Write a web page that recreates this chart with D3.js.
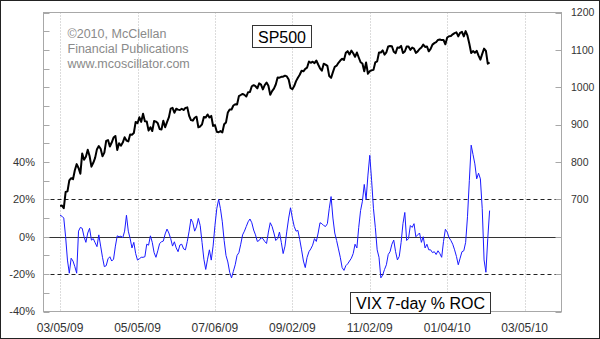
<!DOCTYPE html>
<html><head><meta charset="utf-8">
<script src="https://cdn.jsdelivr.net/npm/d3@7"></script>
<style>html,body{margin:0;padding:0;background:#fff;}svg{display:block;}</style>
</head><body>
<script>
// ---- data ----
const dateTickDays = [0, 42, 84, 126, 168, 210, 252];
const dateTickLabels = ["03/05/09", "05/05/09", "07/06/09", "09/02/09", "11/02/09", "01/04/10", "03/05/10"];
const leftTickValues = [-40, -30, -20, -10, 0, 10, 20, 30, 40, 50, 60, 70, 80, 90, 100, 110, 120];
const leftLabelValues = [-40, -20, 0, 20, 40];
const rightTickValues = [400, 500, 600, 700, 800, 900, 1000, 1100, 1200];
const rightLabelValues = [700, 800, 900, 1000, 1100, 1200];
const refLines = [20, -20];

// S&P 500 daily closes from 03/05/09 (trading-day index 0)
const sp500 = [
682.55,683.38,676.53,719.60,721.36,750.74,756.55,753.89,778.12,794.35,784.04,768.54,822.92,806.12,813.88,832.86,815.94,787.53,797.87,
811.08,834.38,842.50,835.48,815.55,825.16,856.56,858.73,841.50,852.06,865.30,869.60,832.39,850.08,843.55,851.92,866.23,857.51,855.16,873.64,872.81,
877.52,907.24,903.80,919.53,907.39,929.23,909.24,908.35,883.92,893.07,882.88,909.71,908.13,903.47,888.33,887.00,910.33,893.06,906.83,919.14,
942.87,944.74,931.76,942.46,940.09,939.14,942.43,939.15,944.89,946.21,923.72,911.97,910.71,918.37,921.23,893.04,895.10,900.94,920.26,918.90,927.23,919.32,
923.33,896.42,898.72,881.03,879.56,882.68,879.13,901.05,905.84,932.68,940.74,940.38,951.13,954.58,954.07,976.29,979.26,982.18,979.62,975.15,986.75,987.48,
1002.63,1005.65,1002.72,997.08,1010.48,1007.10,994.35,1005.81,1012.73,1004.09,979.73,989.67,996.46,1007.37,1026.13,1025.57,1028.00,1028.12,1030.98,1028.93,1020.62,
998.04,994.75,1003.24,1016.40,1025.39,1033.37,1044.14,1042.73,1049.34,1052.63,1068.76,1065.49,1068.30,1064.66,1071.66,1060.87,1050.78,1044.38,1062.98,1060.61,1057.08,
1029.85,1025.21,1040.46,1054.72,1057.58,1065.48,1071.49,1076.19,1073.19,1092.02,1096.56,1087.68,1097.91,1091.06,1081.40,1092.91,1079.60,1066.95,1063.41,1042.63,1066.11,1036.19,
1042.88,1045.41,1046.50,1066.63,1069.30,1093.08,1093.01,1098.51,1087.24,1093.48,1109.30,1110.32,1109.80,1094.90,1091.38,1106.24,1105.65,1110.63,1091.49,1095.63,
1108.86,1109.24,1099.92,1105.98,1103.25,1091.94,1095.95,1102.35,1106.41,1114.11,1107.93,1109.18,1096.08,1102.47,1114.05,1118.02,1120.59,1126.48,1127.78,1126.20,1126.42,1115.10,
1132.99,1136.52,1137.14,1141.69,1144.98,1146.98,1136.22,1145.68,1148.46,1136.03,1150.23,1138.04,1116.48,1091.76,1096.78,1092.17,1097.50,1084.53,1073.87,
1089.19,1103.32,1097.28,1063.11,1066.19
];

// VIX 7-day % rate of change, same trading days
const vixRoc = [
11.5,11,10,0,-12.5,-19.5,-11.5,-13,-16,-19.5,3,5,4.5,0,-3,2,4.5,-1.8,-1,-3.2,
-5.3,1,-5,-11,-16,-15.5,-11.8,-10.7,-13,-12,-5,0.5,0,0.3,-0.5,3,11.5,3,-1,-6,
-3,-9,-12.5,-11.8,-11,-11,-10.7,-4,-4.5,0.5,-3,-8.5,-11,-7.5,-3.6,-2.7,-2.3,1.5,4.1,2,
-1,-5,-2.7,-6,-8,-4.4,-4,-6.5,-7,-2.5,3,9.5,7.5,3,5.3,9.8,6,-3,-12,-17.5,
-12,-7,-12.5,-5,6,15,20,15,8,-2,-10,-13.5,-19,-22,-18.5,-15,-10,-8.5,-4,1,
3,5.5,8,9.5,7.5,3.6,1,-2.5,-2,-0.5,-1,-2.5,-3.6,2.5,7.5,5.5,2,-2,-1,2.5,
-3,-9,-5,3,10,15.5,10,5.5,3,3.4,-1.5,-7,-13,-16.5,-11,-8,-6.5,-4.5,-1,-2.5,
2,7.5,7,6,5.5,7,15,21.5,10,2,-2,-6.5,-11,-16.5,-18,-15.5,-14.5,-13,-11.5,-9,
-4,-6,5,14,19,28,20,33,43.6,30,15,5,-7,-11,-22,-20.5,-17.5,-15,-9.5,-8,
-4,-1.8,-8,-12.4,-10.5,-3,7,13,-2,-1,6,5,7,0,1,2,-3,0,-6,-4,
-7,-7,-8.5,-8,-9.5,-7.5,-9,-11,-2.5,4,2.5,-0.5,-2,-4,-7,-10.5,-15,-11.5,-8,-7.5,
-3,10.7,30,49,44,39,31,34,31,15,-12.4,-19,-1,14
];

const W = 600, H = 339;
const font = "'Liberation Sans', Arial, Helvetica, sans-serif";
const svg = d3.select("body").append("svg").attr("width", W).attr("height", H);

svg.append("rect").attr("x", 0.5).attr("y", 0.5).attr("width", W - 1).attr("height", H - 1)
  .attr("fill", "#fff").attr("stroke", "#222");

const L = 43.5, R = 561.5, T = 12.5, B = 311.5;
const x = d3.scaleLinear().domain([-9, 272]).range([L, R]);
const yL = d3.scaleLinear().domain([-40, 120]).range([B, T]);
const yR = d3.scaleLinear().domain([400, 1200]).range([B, T]);

// vertical dotted grid
svg.append("g").selectAll("line").data(dateTickDays).join("line")
  .attr("x1", d => Math.round(x(d)) + 0.5).attr("x2", d => Math.round(x(d)) + 0.5)
  .attr("y1", T).attr("y2", B)
  .attr("stroke", "#b8b8b8").attr("stroke-dasharray", "1,2");

// dashed reference lines
svg.append("g").selectAll("line").data(refLines).join("line")
  .attr("x1", L).attr("x2", R)
  .attr("y1", d => Math.round(yL(d)) + 0.5).attr("y2", d => Math.round(yL(d)) + 0.5)
  .attr("stroke", "#222").attr("stroke-dasharray", "4,3");
// zero line
svg.append("line").attr("x1", L).attr("x2", R)
  .attr("y1", Math.round(yL(0)) + 0.5).attr("y2", Math.round(yL(0)) + 0.5)
  .attr("stroke", "#333");

// frame
svg.append("rect").attr("x", L).attr("y", T).attr("width", R - L).attr("height", B - T)
  .attr("fill", "none").attr("stroke", "#a8a8a8");

// ticks (inward)
svg.append("g").selectAll("line").data(leftTickValues).join("line")
  .attr("x1", L).attr("x2", L + 6)
  .attr("y1", d => Math.round(yL(d)) + 0.5).attr("y2", d => Math.round(yL(d)) + 0.5)
  .attr("stroke", "#a8a8a8");
svg.append("g").selectAll("line").data(rightTickValues).join("line")
  .attr("x1", R - 6).attr("x2", R)
  .attr("y1", d => Math.round(yR(d)) + 0.5).attr("y2", d => Math.round(yR(d)) + 0.5)
  .attr("stroke", "#a8a8a8");

// labels
svg.append("g").selectAll("text").data(leftLabelValues).join("text")
  .attr("x", 35).attr("y", d => yL(d)).attr("dy", "0.36em")
  .attr("text-anchor", "end").attr("font-family", font).attr("font-size", 11).attr("fill", "#333")
  .text(d => d + "%");
svg.append("g").selectAll("text").data(rightLabelValues).join("text")
  .attr("x", 571).attr("y", d => yR(d)).attr("dy", "0.36em")
  .attr("text-anchor", "start").attr("font-family", font).attr("font-size", 10.5).attr("fill", "#333")
  .text(d => d);
svg.append("g").selectAll("text").data(dateTickDays).join("text")
  .attr("x", d => x(d)).attr("y", 332)
  .attr("text-anchor", "middle").attr("font-family", font).attr("font-size", 12).attr("fill", "#333")
  .text((d, i) => dateTickLabels[i]);

// series
const spLine = d3.line().x((d, i) => x(i)).y(d => yR(d));
svg.append("path").datum(sp500).attr("d", spLine)
  .attr("fill", "none").attr("stroke", "#000").attr("stroke-width", 2).attr("stroke-linejoin", "round");

const rocLine = d3.line().x((d, i) => x(i)).y(d => yL(d));
svg.append("path").datum(vixRoc).attr("d", rocLine)
  .attr("fill", "none").attr("stroke", "#1a1aff").attr("stroke-width", 1);

// copyright text
const copy = ["\u00A92010, McClellan", "Financial Publications", "www.mcoscillator.com"];
svg.append("g").selectAll("text").data(copy).join("text")
  .attr("x", 67.5).attr("y", (d, i) => 38 + i * 15)
  .attr("font-family", font).attr("font-size", 12.5).attr("fill", "#8a8a8a")
  .text(d => d);

// boxed titles
function boxLabel(txt, bx, by, bw, bh, baseline) {
  svg.append("rect").attr("x", bx).attr("y", by).attr("width", bw).attr("height", bh)
    .attr("fill", "#fff").attr("stroke", "#333");
  svg.append("text").attr("x", bx + bw / 2).attr("y", baseline)
    .attr("text-anchor", "middle").attr("font-family", font).attr("font-size", 16).attr("fill", "#000")
    .text(txt);
}
boxLabel("SP500", 252.5, 25.5, 59, 22, 42.5);
boxLabel("VIX 7-day % ROC", 350.5, 292.5, 140, 21, 308.5);
</script>
</body></html>
